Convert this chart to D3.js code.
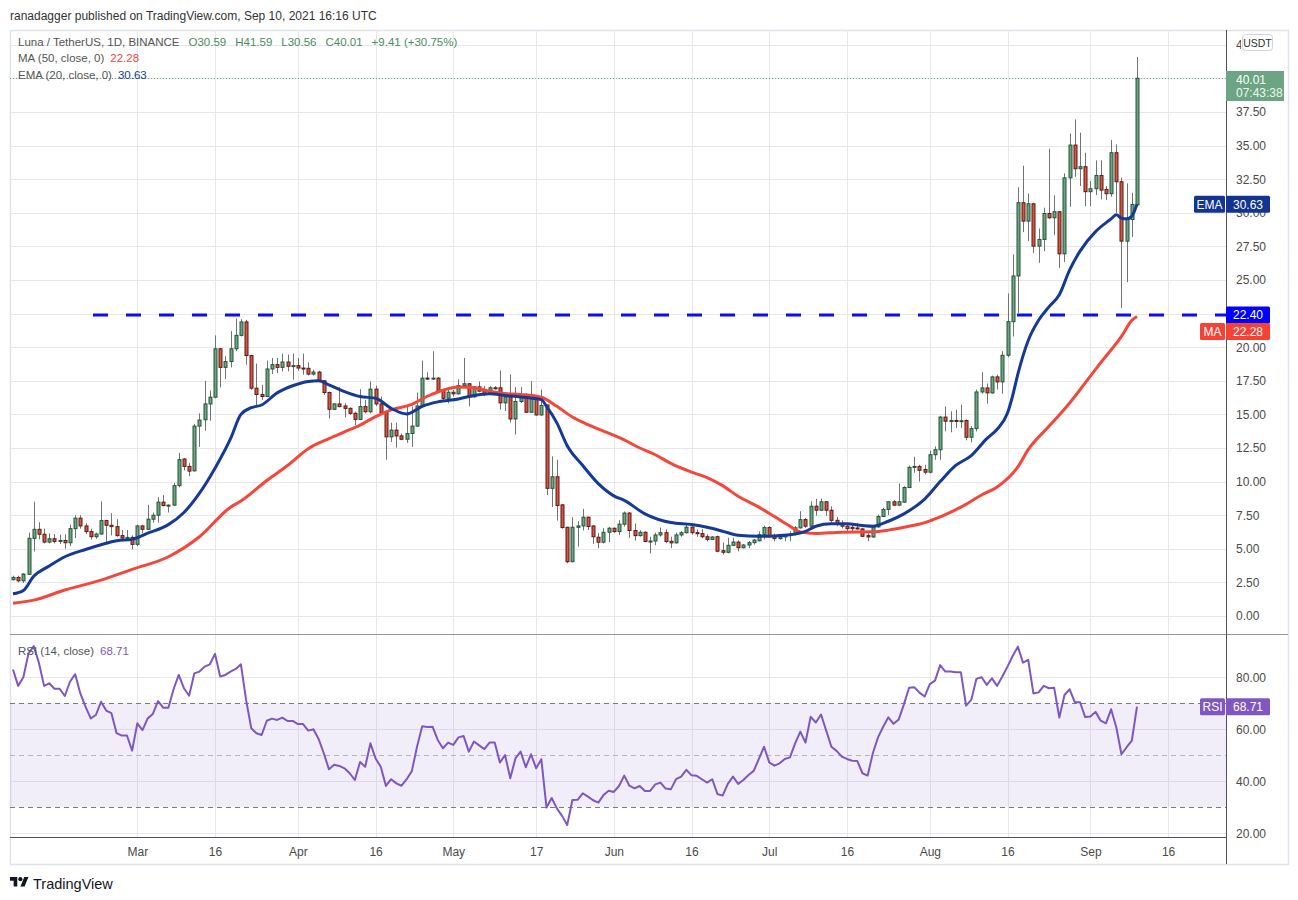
<!DOCTYPE html>
<html>
<head>
<meta charset="utf-8">
<script src="https://cdn.jsdelivr.net/npm/d3@7"></script>
<style>
  body { margin: 0; background: #fff; }
  text { font-family: "Liberation Sans", Arial, sans-serif; }
</style>
</head>
<body>
<script>
// daily candles, Feb 5 2021 .. Sep 10 2021 (LUNA/USDT, Binance)
var firstDay = new Date(Date.UTC(2021, 1, 5));
var lastDay = new Date(Date.UTC(2021, 8, 10));

var opens = [2.70,2.87,2.62,3.10,5.78,6.45,6.08,5.50,5.75,5.55,5.62,5.45,6.50,7.28,6.70,6.28,5.90,6.10,7.10,6.75,
  6.65,5.98,5.80,5.85,5.33,6.70,6.45,7.20,7.50,8.47,8.22,8.25,9.70,11.68,11.13,10.80,14.13,14.60,15.78,16.28,
  19.88,18.50,18.93,19.88,20.88,21.88,19.38,16.95,16.48,16.33,18.38,18.70,18.50,18.90,18.58,18.63,18.45,18.43,18.00,18.15,
  17.50,16.63,15.38,15.78,15.63,15.45,15.08,14.63,15.58,15.20,16.88,15.78,15.13,13.33,13.83,13.40,13.15,13.58,14.13,15.63,
  17.70,17.63,17.70,16.78,16.20,16.65,16.53,17.15,17.28,16.30,17.05,16.73,16.53,16.98,16.98,15.86,16.30,14.66,15.96,16.40,
  15.16,16.16,14.96,15.70,9.50,10.36,8.27,6.60,4.04,6.60,6.70,7.35,6.70,5.86,5.49,6.23,6.53,6.28,6.83,7.66,
  6.36,5.98,6.23,5.56,5.58,6.03,6.20,5.56,5.44,6.03,6.20,6.61,6.20,6.13,5.90,5.70,5.90,4.86,4.74,5.26,
  5.50,5.08,5.28,5.46,5.60,6.05,6.58,5.93,5.76,5.88,6.00,6.06,6.56,7.17,6.68,8.17,7.87,8.50,7.87,7.12,
  6.88,6.68,6.60,6.55,6.48,5.98,5.88,6.63,7.40,7.93,8.50,8.25,8.47,9.56,11.06,11.13,10.90,10.70,12.00,12.37,
  14.80,14.49,14.55,14.50,14.55,13.30,13.94,16.67,16.97,16.60,17.79,17.42,19.40,21.90,25.30,30.75,29.38,30.67,27.52,28.02,
  29.95,29.63,30.08,26.95,32.60,35.04,33.28,33.43,31.57,31.79,32.78,31.74,31.42,34.47,32.31,27.89,29.50,30.59];
var highs = [3.00,3.00,3.20,6.20,8.50,6.98,6.50,6.15,6.10,6.05,6.08,6.80,7.50,7.50,6.90,6.50,6.20,8.52,7.15,7.65,
  7.20,6.40,6.40,6.00,6.80,6.78,8.27,7.70,8.85,9.00,8.30,9.90,12.13,11.75,11.38,14.30,15.08,17.50,16.78,20.88,
  19.95,19.33,21.20,22.13,22.08,22.03,19.45,18.78,17.20,19.00,19.20,19.20,19.53,19.45,19.53,19.20,19.53,18.88,18.33,18.25,
  17.55,16.70,15.83,17.03,15.83,15.53,15.20,16.88,16.08,17.45,17.13,16.33,15.20,14.38,14.38,13.58,15.58,15.58,16.63,19.00,
  18.13,19.70,17.78,16.90,16.90,16.83,17.60,19.20,17.33,17.10,17.45,17.10,17.10,17.10,18.27,16.48,17.97,17.03,17.03,16.60,
  17.48,16.38,16.85,15.73,11.88,11.63,8.35,6.65,7.35,7.05,7.97,7.40,6.75,6.18,6.53,6.63,6.58,7.13,7.78,7.73,
  6.88,6.38,6.30,5.90,6.20,6.58,6.45,5.90,6.20,6.33,6.91,6.76,6.45,6.45,6.08,5.95,5.98,5.46,5.82,5.82,
  5.63,5.36,5.58,5.75,6.30,6.73,6.68,6.13,5.98,6.05,6.30,6.68,7.80,7.30,8.54,8.72,8.74,8.54,8.17,7.37,
  7.12,6.90,6.90,6.90,6.56,6.20,6.73,7.54,8.05,8.54,8.62,9.86,9.66,11.20,11.85,11.25,11.25,12.30,12.62,14.90,
  15.60,15.23,15.35,15.73,14.62,14.12,16.84,18.14,17.30,17.89,17.96,19.70,24.00,26.90,31.90,33.50,31.44,30.75,28.83,30.38,
  34.77,31.30,30.13,32.93,35.90,36.95,35.96,34.47,32.36,33.90,33.90,31.99,35.41,35.09,32.61,32.19,31.49,41.59];
var lows = [2.65,2.50,2.45,3.05,4.80,5.70,5.40,5.40,5.40,5.35,5.00,5.20,5.80,6.50,6.10,5.70,5.75,6.05,5.40,6.00,
  5.90,5.70,5.60,4.96,5.20,6.15,6.40,6.95,6.95,8.15,7.70,8.20,9.57,10.83,10.40,10.75,12.58,13.78,14.53,16.20,
  17.00,17.63,18.50,19.70,20.80,18.70,16.83,15.70,16.08,16.28,18.00,18.08,18.20,18.20,17.58,18.25,17.95,17.90,17.90,17.40,
  16.45,14.70,15.33,15.53,14.78,14.95,14.20,14.58,15.08,15.08,15.63,15.08,11.63,12.95,12.53,13.08,12.88,12.58,14.08,15.58,
  17.58,17.58,16.70,16.08,15.83,16.33,16.48,17.10,15.60,16.25,16.65,16.35,16.48,16.85,15.36,15.25,14.40,13.50,15.85,15.10,
  15.10,14.90,14.90,9.00,8.10,7.10,6.50,3.92,4.00,5.16,6.36,6.40,5.36,5.04,5.40,5.50,6.18,6.03,6.65,5.81,
  5.61,5.91,5.49,4.66,5.27,5.90,5.41,5.06,5.39,5.90,6.13,6.05,5.90,5.78,5.55,5.65,4.74,4.56,4.66,5.20,
  4.81,5.03,5.06,5.31,5.55,5.70,5.83,5.56,5.68,5.56,5.56,6.00,6.50,6.56,6.60,7.46,7.80,7.46,6.93,6.68,
  6.51,6.31,6.31,6.43,5.88,5.56,5.81,6.56,7.37,7.50,8.17,8.17,8.42,9.51,10.66,10.00,10.54,10.61,11.62,11.62,
  13.74,13.67,13.99,13.99,13.07,12.92,13.74,16.54,15.80,16.54,16.85,16.54,19.25,20.80,22.55,28.56,27.90,27.00,26.28,27.15,
  29.55,28.34,25.90,26.33,30.45,32.68,31.99,30.50,30.50,31.32,31.00,30.95,31.20,30.00,22.93,24.84,28.20,30.56];
var closes = [2.87,2.62,3.12,5.78,6.45,6.08,5.50,5.75,5.55,5.62,5.45,6.50,7.28,6.70,6.28,5.90,6.10,7.10,6.75,6.65,
  5.98,5.80,5.85,5.33,6.70,6.45,7.20,7.50,8.47,8.22,8.25,9.70,11.63,11.13,10.78,14.13,14.58,15.78,16.28,19.88,
  18.50,18.93,19.88,20.88,21.88,19.38,16.95,16.48,16.33,18.38,18.70,18.50,18.90,18.58,18.63,18.45,18.43,18.00,18.15,17.50,
  16.63,15.38,15.78,15.58,15.45,15.08,14.63,15.58,15.20,16.88,15.78,15.13,13.33,13.83,13.40,13.15,13.58,14.13,15.63,17.70,
  17.63,17.70,16.78,16.20,16.65,16.53,17.15,17.28,16.30,17.05,16.73,16.53,16.98,16.93,15.86,16.30,14.66,15.96,16.40,15.16,
  16.16,14.96,15.66,9.50,10.36,8.22,6.58,4.04,6.60,6.70,7.35,6.66,5.90,5.49,6.23,6.53,6.28,6.83,7.66,6.36,
  5.98,6.23,5.54,5.58,6.03,6.20,5.54,5.44,6.03,6.20,6.61,6.20,6.13,5.90,5.70,5.88,4.82,4.74,5.26,5.50,
  5.08,5.28,5.46,5.65,6.05,6.58,5.90,5.76,5.88,6.00,6.06,6.56,7.17,6.68,8.17,7.87,8.50,7.87,7.12,6.88,
  6.68,6.50,6.50,6.50,5.93,5.88,6.63,7.40,7.93,8.50,8.25,8.50,9.56,11.06,11.13,10.84,10.70,12.00,12.37,14.80,
  14.49,14.55,14.50,14.53,13.30,13.94,16.67,16.97,16.60,17.79,17.42,19.40,21.90,25.30,30.75,29.38,30.67,27.52,28.02,29.95,
  29.63,30.08,26.95,32.60,35.04,33.28,33.43,31.57,31.79,32.78,31.69,31.42,34.47,32.31,27.89,29.50,30.62,40.01];

// RSI(14) per day
var rsi = [83,76.7,80,89.2,92,85.6,76.7,77.7,75.6,75.6,72.8,78.3,81.2,73.8,68.7,64.2,65.5,70.6,67.2,66.2,
  58.5,57.6,57.6,51.8,62.3,59.7,64.2,65.9,70.8,68.3,68.3,75.4,80.9,75.8,72.9,81.5,82.2,84.1,85,89,
  80.3,80.9,82.2,83.2,85,71.3,60.4,58.5,57.8,63.3,64.1,63.6,64.5,63.2,63.2,62,62,59.5,60,56.3,
  50.8,44.6,46.4,45.9,45,43.1,40.5,47.4,45.6,54.6,48.8,45.6,38.2,40.8,39.2,38.3,40.8,43.9,53.3,61.2,
  60.9,61,55.9,52.7,54.9,54,56.9,57.4,51.4,55.3,53.8,52.4,54.9,54.9,47.2,50.1,41.2,48.8,51.4,45.4,
  50.4,45,48.5,29.9,33.6,29.6,26.7,23.2,32.8,32.9,35.4,34.1,32.7,31.8,34.7,36.4,35.9,38.2,42.2,38.3,
  37.3,38.2,36.3,36.3,38.8,39.5,37.2,36.9,40.8,41.8,44.4,42.3,42.1,40.8,39.5,40.8,35.1,34.5,39,41.8,
  39,40.5,42.4,44,48.6,53.3,47.3,46,46.9,48.6,49.2,54.6,59.1,54.9,64.8,62.6,65.7,59.5,53.3,51.7,
  49.5,48.6,47.9,47.8,43.1,42.2,50.8,56.9,61,64.6,62.1,63.8,69.6,76,76.2,74.1,72.6,77.4,78.7,84.7,
  82.2,82.2,81.9,81.9,69.1,71.3,79.4,80,77.1,79.6,76.7,80.3,84.1,88.2,91.8,85.6,86.7,73.8,74.2,76.7,
  75.8,76,64.5,73.2,75.4,70.4,70.4,64.7,64.9,66.7,63.3,62.3,67.7,60.8,50.4,53.1,55.6,68.71];

// EMA(20) and MA(50) (day number from Feb 5)
var emaDay = [0,2,4,7,10,14,17,20,23,26,30,33,36,39,42,44,46,48,51,54,57,59,61,64,67,70,73,76,79,82,86,89,92,95,98,102,103,105,107,110,
  113,116,118,122,127,131,134,137,140,144,147,150,153,155,158,161,164,166,169,172,176,179,182,185,188,190,192,193,194,196,198,200,202,204,206,209,212,213,214,215,216,217];
var emaVal = [1.65,1.9,2.95,3.72,4.41,4.95,5.3,5.6,5.7,6.16,6.8,7.7,9.14,11.0,13.2,15.0,15.5,15.7,16.6,17.13,17.45,17.5,17.2,16.7,16.33,16.2,15.45,15.03,15.6,15.93,16.15,16.41,16.53,16.41,16.3,16.1,15.6,14.37,12.67,11.2,
  9.85,8.94,8.6,7.6,6.95,6.8,6.6,6.31,6.01,5.94,5.96,6.04,6.3,6.68,6.86,6.86,6.73,6.68,7.05,7.6,8.7,10.0,11.2,11.93,13.2,13.9,15.1,16.4,18.0,20.5,22.0,23.0,23.9,25.75,27.15,28.6,29.55,29.85,29.6,29.55,29.75,30.63];
var maDay = [0,4,10,17,23,30,36,42,44,49,53,57,61,64,67,70,73,77,80,83,86,89,92,95,98,102,105,108,111,115,118,121,124,127,131,134,137,140,144,147,
  150,152,155,160,166,169,172,176,179,183,187,190,194,196,200,204,207,210,214,216,217];
var maVal = [0.95,1.18,1.93,2.67,3.47,4.41,5.9,8.1,8.55,10.08,11.2,12.45,13.2,13.7,14.2,14.83,15.33,15.75,16.35,16.8,17.03,16.98,16.73,16.55,16.48,16.28,15.6,14.81,14.24,13.6,13.1,12.5,12.0,11.35,10.7,10.3,9.7,8.91,8.1,7.4,
  6.68,6.26,6.14,6.24,6.26,6.39,6.6,6.95,7.38,8.1,9.0,9.6,11.1,12.38,14.11,15.85,17.34,18.85,20.8,22.0,22.28];

var priceTicks = [0,2.5,5,7.5,10,12.5,15,17.5,20,22.5,25,27.5,30,32.5,35,37.5,40,42.5];
var rsiTicks = [20,40,60,80];
var timeTicks = ["2021-03-01","2021-03-16","2021-04-01","2021-04-16","2021-05-01","2021-05-17","2021-06-01",
  "2021-06-16","2021-07-01","2021-07-16","2021-08-01","2021-08-16","2021-09-01","2021-09-16"];
var timeLabels = ["Mar","16","Apr","16","May","17","Jun","16","Jul","16","Aug","16","Sep","16"];

var supportLevel = 22.40;

var W = 1298, H = 900;
var left = 10, axisX = 1226, right = 1288;
var paneTop = 30, paneBottom = 634, rsiBottom = 837;

var days = d3.utcDay.range(firstDay, d3.utcDay.offset(lastDay, 1));
var dayOf = function(i) { return d3.utcDay.offset(firstDay, i); };

var x = d3.scaleUtc().domain([firstDay, lastDay]).range([13, 1137]);
var y = d3.scaleLinear().domain([0, 40]).range([616, 78.4]);
var yr = d3.scaleLinear().domain([20, 80]).range([833.3, 677.3]);

var svg = d3.select("body").append("svg").attr("width", W).attr("height", H);

svg.append("text").attr("x", 10).attr("y", 20).attr("font-size", 12).attr("fill", "#333")
  .text("ranadagger published on TradingView.com, Sep 10, 2021 16:16 UTC");

// frame
svg.append("rect").attr("x", left + 0.5).attr("y", paneTop + 0.5).attr("width", right - left).attr("height", 834)
  .attr("fill", "none").attr("stroke", "#e0e3eb").attr("stroke-width", 1.5);

// grid
var grid = svg.append("g").attr("stroke", "#e8e8ec").attr("stroke-width", 1);
grid.selectAll("line.v").data(timeTicks).join("line")
  .attr("x1", function(d){ return Math.round(x(new Date(d))) + 0.5; })
  .attr("x2", function(d){ return Math.round(x(new Date(d))) + 0.5; })
  .attr("y1", paneTop).attr("y2", rsiBottom);
grid.selectAll("line.h").data(priceTicks).join("line")
  .attr("x1", left).attr("x2", axisX)
  .attr("y1", function(d){ return Math.round(y(d)) + 0.5; }).attr("y2", function(d){ return Math.round(y(d)) + 0.5; });
grid.selectAll("line.r").data(rsiTicks).join("line")
  .attr("x1", left).attr("x2", axisX)
  .attr("y1", function(d){ return Math.round(yr(d)) + 0.5; }).attr("y2", function(d){ return Math.round(yr(d)) + 0.5; });

// rsi band
svg.append("rect").attr("x", left).attr("width", axisX - left)
  .attr("y", yr(70)).attr("height", yr(30) - yr(70)).attr("fill", "rgba(126,87,194,0.1)");
[[70, "#787b86"], [50, "#b2b5be"], [30, "#787b86"]].forEach(function(l) {
  svg.append("line").attr("x1", left).attr("x2", axisX)
    .attr("y1", Math.round(yr(l[0])) + 0.5).attr("y2", Math.round(yr(l[0])) + 0.5)
    .attr("stroke", l[1]).attr("stroke-dasharray", "5,4");
});

// price pane contents
svg.append("clipPath").attr("id", "pc").append("rect")
  .attr("x", left).attr("y", paneTop).attr("width", axisX - left).attr("height", paneBottom - paneTop);
var pane = svg.append("g").attr("clip-path", "url(#pc)");

// last price dotted line
pane.append("line").attr("x1", left).attr("x2", axisX)
  .attr("y1", Math.round(y(closes[closes.length - 1])) + 0.5).attr("y2", Math.round(y(closes[closes.length - 1])) + 0.5)
  .attr("stroke", "#6ba583").attr("stroke-dasharray", "1,2");

var idx = d3.range(days.length);
var px = function(i) { return Math.round(x(days[i])) + 0.5; };

pane.append("g").selectAll("line").data(idx).join("line")
  .attr("x1", px).attr("x2", px)
  .attr("y1", function(i){ return y(highs[i]); }).attr("y2", function(i){ return y(lows[i]); })
  .attr("stroke", "#737375").attr("stroke-width", 1);

pane.append("g").selectAll("rect").data(idx).join("rect")
  .attr("x", function(i){ return px(i) - 1.5; }).attr("width", 3)
  .attr("y", function(i){ return y(Math.max(opens[i], closes[i])); })
  .attr("height", function(i){ return Math.max(1, Math.abs(y(opens[i]) - y(closes[i]))); })
  .attr("fill", function(i){ return closes[i] >= opens[i] ? "#6ba583" : "#d75442"; })
  .attr("stroke", function(i){ return closes[i] >= opens[i] ? "#225437" : "#5b1a13"; })
  .attr("stroke-width", 1);

var maLine = d3.line().curve(d3.curveMonotoneX)
  .x(function(d){ return x(dayOf(d[0])); }).y(function(d){ return y(d[1]); });

pane.append("path").attr("d", maLine(d3.zip(maDay, maVal)))
  .attr("fill", "none").attr("stroke", "#f4473a").attr("stroke-width", 3).attr("stroke-linejoin", "round");
pane.append("path").attr("d", maLine(d3.zip(emaDay, emaVal)))
  .attr("fill", "none").attr("stroke", "#153a96").attr("stroke-width", 3).attr("stroke-linejoin", "round");

pane.append("line").attr("x1", 93).attr("x2", axisX)
  .attr("y1", y(supportLevel)).attr("y2", y(supportLevel))
  .attr("stroke", "#0a0aff").attr("stroke-width", 3).attr("stroke-dasharray", "15,18");

// rsi line
svg.append("path").attr("d", d3.line().x(function(d, i){ return x(days[i]); }).y(function(d){ return yr(d); })(rsi))
  .attr("fill", "none").attr("stroke", "#7e57c2").attr("stroke-width", 2).attr("stroke-linejoin", "round");

// pane separators and axes lines
svg.append("line").attr("x1", left).attr("x2", right).attr("y1", paneBottom + 0.5).attr("y2", paneBottom + 0.5).attr("stroke", "#9598a1");
svg.append("line").attr("x1", left).attr("x2", axisX).attr("y1", rsiBottom + 0.5).attr("y2", rsiBottom + 0.5).attr("stroke", "#50535e");
svg.append("line").attr("x1", axisX + 0.5).attr("x2", axisX + 0.5).attr("y1", paneTop).attr("y2", 864).attr("stroke", "#50535e");

// right axes (42.50 sits mostly under the currency box, 22.50 fully under the 22.40 tag, as on the original)
var hiddenTicks = [22.5];
svg.append("clipPath").attr("id", "ac").append("rect").attr("x", axisX).attr("y", 51).attr("width", 70).attr("height", 800);
svg.append("clipPath").attr("id", "atop").append("rect").attr("x", axisX).attr("y", 30).attr("width", 15).attr("height", 21);
var fmt = d3.format(".2f");
var pAxis = svg.append("g").attr("clip-path", "url(#ac)").append("g").attr("transform", "translate(" + axisX + ",0)")
  .call(d3.axisRight(y).tickValues(priceTicks.slice(0, -1).filter(function(t){ return hiddenTicks.indexOf(t) < 0; }))
    .tickFormat(fmt).tickSize(0).tickPadding(10));
var topAxis = svg.append("g").attr("clip-path", "url(#atop)").append("g").attr("transform", "translate(" + axisX + ",0)")
  .call(d3.axisRight(y).tickValues(priceTicks.slice(-1)).tickFormat(fmt).tickSize(0).tickPadding(10));
var rAxis = svg.append("g").attr("transform", "translate(" + axisX + ",0)")
  .call(d3.axisRight(yr).tickValues(rsiTicks).tickFormat(fmt).tickSize(0).tickPadding(10));
var tAxis = svg.append("g").attr("transform", "translate(0," + rsiBottom + ")")
  .call(d3.axisBottom(x).tickValues(timeTicks.map(function(d){ return new Date(d); }))
    .tickFormat(function(d, i){ return timeLabels[i]; }).tickSize(0).tickPadding(10));
[pAxis, topAxis, rAxis, tAxis].forEach(function(a) {
  a.select(".domain").remove();
  a.selectAll("text").attr("font-family", "Liberation Sans, Arial, sans-serif").attr("font-size", 12).attr("fill", "#4a4a4a");
});

// header legend, laid out left to right
var hdr = [
  {y: 46, gap: 9, parts: [["Luna / TetherUS, 1D, BINANCE", "#555"], ["O30.59", "#4a8c63"], ["H41.59", "#4a8c63"],
    ["L30.56", "#4a8c63"], ["C40.01", "#4a8c63"], ["+9.41 (+30.75%)", "#4a8c63"]]},
  {y: 62, gap: 6, parts: [["MA (50, close, 0)", "#555"], ["22.28", "#f4473a"]]},
  {y: 79, gap: 6, parts: [["EMA (20, close, 0)", "#555"], ["30.63", "#153a96"]]},
  {y: 655, gap: 6, parts: [["RSI (14, close)", "#555"], ["68.71", "#7e57c2"]]}
];
hdr.forEach(function(row) {
  var cx = 18;
  row.parts.forEach(function(p) {
    var t = svg.append("text").attr("x", cx).attr("y", row.y).attr("font-size", 11.5).attr("fill", p[1]).text(p[0]);
    cx += t.node().getComputedTextLength() + row.gap;
  });
});

// value tags on the price axis
function tag(x0, w, yc, h, fill, label) {
  svg.append("rect").attr("x", x0).attr("y", yc - h / 2).attr("width", w).attr("height", h).attr("rx", 1.5).attr("fill", fill);
  svg.append("text").attr("x", x0 + w / 2).attr("y", yc + 4.5).attr("text-anchor", "middle")
    .attr("font-size", 12).attr("fill", "#fff").text(label);
}
tag(axisX, 44, y(30.63), 17, "#123493", "30.63");
tag(1194, 31, y(30.63), 17, "#123493", "EMA");
tag(axisX, 44, y(supportLevel), 17, "#0000ff", "22.40");
tag(axisX, 44, y(supportLevel) + 16.5, 17, "#f44336", "22.28");
tag(1200, 25, y(supportLevel) + 16.5, 17, "#f44336", "MA");
tag(axisX, 44, yr(68.71), 17, "#7e57c2", "68.71");
tag(1200, 25, yr(68.71), 17, "#7e57c2", "RSI");

// last price tag
svg.append("rect").attr("x", axisX).attr("y", 71).attr("width", 58).attr("height", 30).attr("fill", "#6ba583");
svg.append("text").attr("x", 1236).attr("y", 84).attr("font-size", 12).attr("fill", "#fff").text("40.01");
svg.append("text").attr("x", 1236).attr("y", 97).attr("font-size", 12).attr("fill", "#eef6f0").text("07:43:38");

// currency box
svg.append("rect").attr("x", 1242.5).attr("y", 34.5).attr("width", 30).attr("height", 16).attr("rx", 3)
  .attr("fill", "#fff").attr("stroke", "#d1d4dc");
svg.append("text").attr("x", 1257.5).attr("y", 46.5).attr("text-anchor", "middle").attr("font-size", 10.5).attr("fill", "#333").text("USDT");

// TradingView logo
var logo = svg.append("g").attr("transform", "translate(10,875) scale(0.52)").attr("fill", "#131722");
logo.append("path").attr("d", "M14 22H7V11H0V4h14v18zM28 22h-8l7.5-18h8L28 22z");
logo.append("circle").attr("cx", 20).attr("cy", 8).attr("r", 4);
svg.append("text").attr("x", 33).attr("y", 889).attr("font-size", 14.5).attr("fill", "#131722").text("TradingView");
</script>
</body>
</html>
